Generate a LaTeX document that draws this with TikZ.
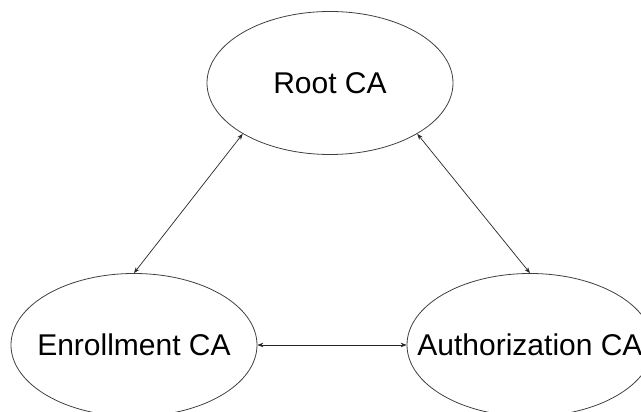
\documentclass[tikz,border=0pt]{standalone}
\usepackage{fontspec}
\setmainfont{Liberation Sans}
\usetikzlibrary{shapes.geometric,arrows.meta,positioning}
\tikzset{ca node/.style={ellipse,draw=black!75,line width=0.8pt,minimum width=246pt,minimum height=143pt,inner sep=0pt,font=\fontsize{30pt}{36pt}\selectfont},
         link/.style={draw=black!85,line width=0.7pt}
}

\begin{document}
\begin{tikzpicture}[<->,>={Stealth[length=6pt,width=4.5pt]}]
\useasboundingbox (0,0) rectangle (641pt,412pt);
\node[ca node] (root) at (330pt,329pt) {\makebox[0pt]{Root CA}};
\node[ca node] (enroll) at (134pt,67pt) {\makebox[0pt]{Enrollment CA}};
\node[ca node] (auth) at (530pt,67pt) {\makebox[0pt]{Authorization CA}};
\draw[link] (root.south west) -- (enroll.north);
\draw[link] (root.south east) -- (auth.north);
\draw[link] (enroll.east) -- (auth.west);
\end{tikzpicture}
\end{document}
